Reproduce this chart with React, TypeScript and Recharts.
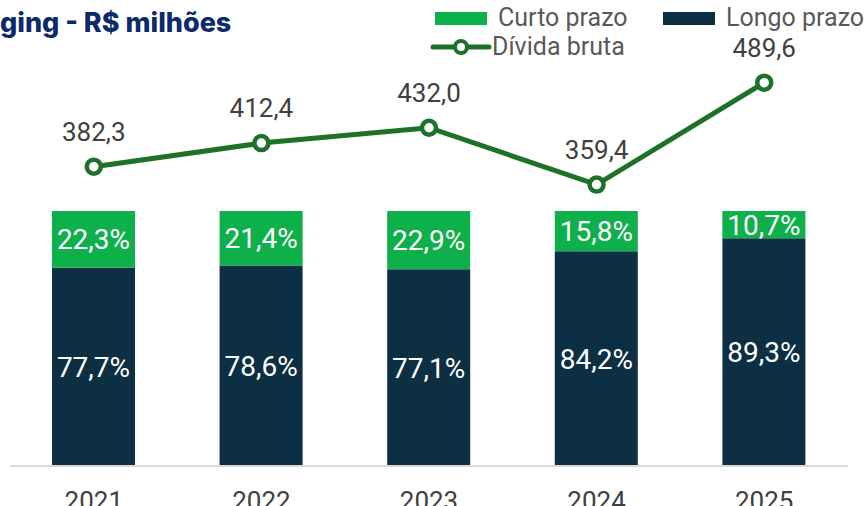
import { ComposedChart, Bar, Line, XAxis, YAxis, LabelList } from 'recharts';

const years = ['2021', '2022', '2023', '2024', '2025'];
const curtoPrazo = [22.3, 21.4, 22.9, 15.8, 10.7];
const longoPrazo = [77.7, 78.6, 77.1, 84.2, 89.3];
const dividaBruta = [382.3, 412.4, 432.0, 359.4, 489.6];

const GREEN = '#0eb04b';
const NAVY = '#0c2f43';
const LINE = '#1d7128';
const FONT = 'Roboto, "Noto Sans", sans-serif';

const data = years.map((y, i) => ({
  year: y,
  curto: curtoPrazo[i],
  longo: longoPrazo[i],
  bruta: dividaBruta[i],
}));

const fmt = (v: number, d = 1) => v.toFixed(d).replace('.', ',');

function YearTick({ x, y, payload }: { x?: number; y?: number; payload?: { value: string } }) {
  return (
    <text x={x} y={(y ?? 0) + 27} textAnchor="middle" dominantBaseline="central"
      fill="#404040" fontSize={26} fontFamily={FONT}>
      {payload?.value}
    </text>
  );
}

// legend drawn on top of the chart so it doesn't push the plot area down
function LegendBox() {
  const txt = { position: 'absolute' as const, fontSize: 25, color: '#595959', fontFamily: FONT, lineHeight: '26px' };
  return (
    <div style={{ position: 'absolute', left: 0, top: 0, width: 866, height: 60, zIndex: 2 }}>
      <div style={{ position: 'absolute', left: 435, top: 12, width: 52, height: 13, background: GREEN }} />
      <div style={{ ...txt, left: 498, top: 5 }}>Curto prazo</div>
      <div style={{ position: 'absolute', left: 663, top: 12, width: 52, height: 13, background: NAVY }} />
      <div style={{ ...txt, left: 726, top: 5 }}>Longo prazo</div>
      <svg style={{ position: 'absolute', left: 430, top: 37 }} width={62} height={20}>
        <line x1={3} y1={10} x2={59} y2={10} stroke={LINE} strokeWidth={5} strokeLinecap="round" />
        <circle cx={31} cy={10} r={6} fill="#fff" stroke={LINE} strokeWidth={4} />
      </svg>
      <div style={{ ...txt, left: 492, top: 34 }}>Dívida bruta</div>
    </div>
  );
}

export default function App() {
  return (
    <div style={{ position: 'fixed', left: 0, top: 0, width: 866, height: 506, background: '#fff', overflow: 'hidden' }}>
      <div style={{ position: 'absolute', left: 0, top: 6, fontFamily: 'Inter, sans-serif', fontWeight: 800, fontSize: 27, color: '#0a2a6a', zIndex: 2 }}>
        ging - R$ milhões
      </div>
      <LegendBox />
      <ComposedChart width={866} height={506} data={data} margin={{ top: 50, right: 18, left: 10, bottom: 0 }}>
        <XAxis dataKey="year" height={40} axisLine={{ stroke: '#d9d9d9', strokeWidth: 2 }} tickLine={false}
          tick={<YearTick />} />
        <YAxis yAxisId="pct" hide domain={[0, 163.1]} />
        <YAxis yAxisId="val" hide orientation="right" domain={[0, 531.3]} />
        <Bar yAxisId="pct" dataKey="longo" stackId="a" fill={NAVY} barSize={83} isAnimationActive={false} name="Longo prazo">
          <LabelList dataKey="longo" position="center" fill="#fff" fontSize={28} fontFamily={FONT}
            formatter={(v: number) => fmt(v) + '%'} />
        </Bar>
        <Bar yAxisId="pct" dataKey="curto" stackId="a" fill={GREEN} barSize={83} isAnimationActive={false} name="Curto prazo">
          <LabelList dataKey="curto" position="center" fill="#fff" fontSize={28} fontFamily={FONT}
            formatter={(v: number) => fmt(v) + '%'} />
        </Bar>
        <Line yAxisId="val" dataKey="bruta" stroke={LINE} strokeWidth={5} isAnimationActive={false} name="Dívida bruta"
          dot={{ r: 7, fill: '#fff', stroke: LINE, strokeWidth: 4.5 }} activeDot={false}>
          <LabelList dataKey="bruta" position="top" offset={26} fill="#404040" fontSize={26} fontFamily={FONT}
            formatter={(v: number) => fmt(v)} />
        </Line>
      </ComposedChart>
    </div>
  );
}
